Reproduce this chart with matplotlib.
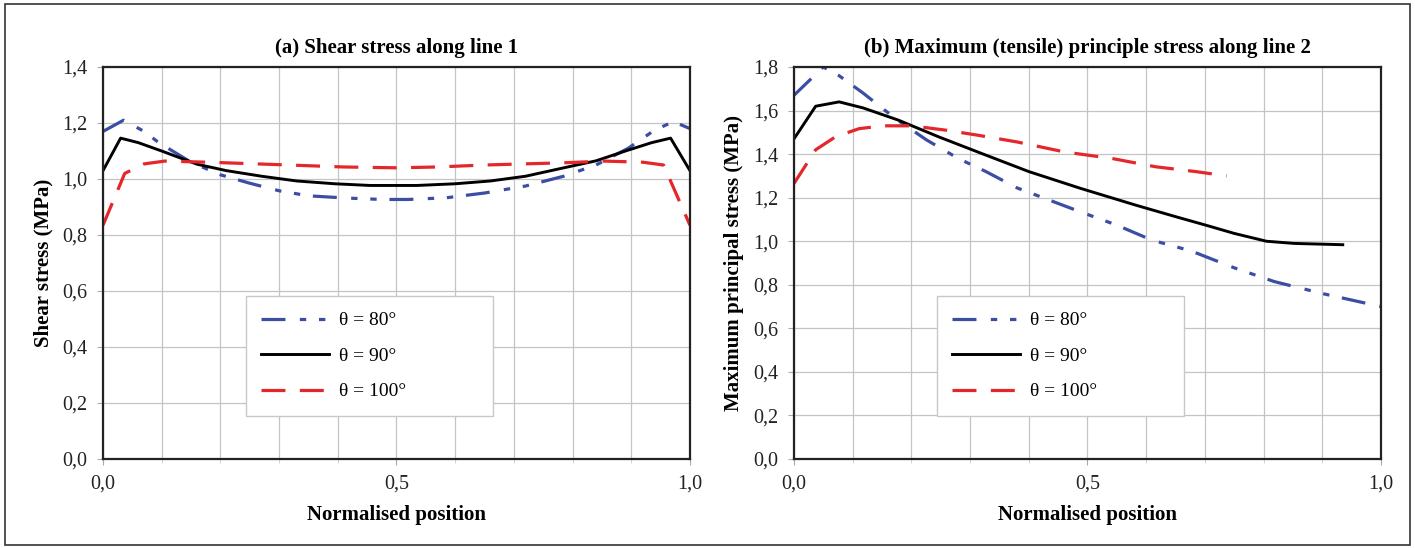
import matplotlib.pyplot as plt
from matplotlib.patches import Rectangle
from matplotlib.ticker import FuncFormatter, MultipleLocator

plt.rcParams['font.family'] = ['Liberation Serif', 'DejaVu Serif']

# (a) shear stress along line 1
x_a80 = [0.0, 0.035, 0.07, 0.095, 0.15, 0.2, 0.25, 0.3, 0.35, 0.415, 0.475, 0.52,
         0.585, 0.65, 0.72, 0.785, 0.84, 0.895, 0.94, 0.972, 1.0]
y_a80 = [1.17, 1.21, 1.17, 1.13, 1.06, 1.015, 0.985, 0.958, 0.94, 0.932, 0.927, 0.927,
         0.933, 0.95, 0.975, 1.01, 1.05, 1.11, 1.175, 1.205, 1.18]
x_a90 = [0.0, 0.03, 0.06, 0.1, 0.16, 0.21, 0.27, 0.33, 0.395, 0.455, 0.535, 0.6,
         0.66, 0.72, 0.785, 0.84, 0.89, 0.935, 0.967, 1.0]
y_a90 = [1.03, 1.146, 1.13, 1.1, 1.053, 1.03, 1.01, 0.993, 0.983, 0.977, 0.977, 0.983,
         0.993, 1.01, 1.04, 1.065, 1.1, 1.13, 1.146, 1.03]
x_a100 = [0.0, 0.037, 0.07, 0.105, 0.18, 0.29, 0.41, 0.5, 0.57, 0.65, 0.785, 0.855,
          0.92, 0.955, 1.0]
y_a100 = [0.835, 1.02, 1.054, 1.064, 1.06, 1.052, 1.043, 1.04, 1.043, 1.05, 1.058, 1.064,
          1.06, 1.05, 0.835]

# (b) max principal stress along line 2
x_b80 = [0.0, 0.05, 0.077, 0.118, 0.172, 0.226, 0.28, 0.327, 0.38, 0.434, 0.488, 0.549,
         0.61, 0.677, 0.75, 0.818, 0.9, 1.0]
y_b80 = [1.67, 1.80, 1.76, 1.68, 1.565, 1.465, 1.38, 1.32, 1.245, 1.19, 1.135, 1.075,
         1.005, 0.955, 0.878, 0.815, 0.76, 0.70]
x_b90 = [0.0, 0.037, 0.077, 0.118, 0.178, 0.246, 0.313, 0.4, 0.488, 0.582, 0.65, 0.704,
         0.75, 0.805, 0.852, 0.935]
y_b90 = [1.47, 1.62, 1.64, 1.612, 1.556, 1.48, 1.41, 1.32, 1.243, 1.166, 1.113, 1.072,
         1.036, 1.0, 0.99, 0.984]
x_b100 = [0.0, 0.037, 0.071, 0.111, 0.152, 0.2, 0.259, 0.313, 0.38, 0.461, 0.542, 0.616,
          0.684, 0.737]
y_b100 = [1.265, 1.42, 1.48, 1.517, 1.53, 1.53, 1.51, 1.487, 1.456, 1.41, 1.38, 1.342,
          1.32, 1.30]

labels = ['θ = 80°', 'θ = 90°', 'θ = 100°']
titles = ['(a) Shear stress along line 1',
          '(b) Maximum (tensile) principle stress along line 2']
ylabels = ['Shear stress (MPa)', 'Maximum principal stress (MPa)']
ymax = [1.4, 1.8]

blue = '#3b4ea3'
red = '#e5262b'

fig = plt.figure(figsize=(14.15, 5.48), dpi=100)
fig.patches.append(Rectangle((0.0035, 0.006), 0.993, 0.987, transform=fig.transFigure,
                             fill=False, edgecolor='#333333', lw=1.2))

ax1 = fig.add_axes([0.0728, 0.1624, 0.4148, 0.7153])
ax2 = fig.add_axes([0.5611, 0.1624, 0.4148, 0.7153])

series = [
    [(x_a80, y_a80), (x_a90, y_a90), (x_a100, y_a100)],
    [(x_b80, y_b80), (x_b90, y_b90), (x_b100, y_b100)],
]

comma = FuncFormatter(lambda v, p: ('%.1f' % v).replace('.', ','))

for i, ax in enumerate([ax1, ax2]):
    (x80, y80), (x90, y90), (x100, y100) = series[i]
    ax.plot(x80, y80, color=blue, lw=2.3, ls=(0, (7.5, 4.5, 2, 4, 2, 4)), label=labels[0])
    ax.plot(x90, y90, color='black', lw=2.1, label=labels[1])
    ax.plot(x100, y100, color=red, lw=2.3, ls=(0, (7.5, 4.5)), label=labels[2])

    ax.set_xlim(0, 1)
    ax.set_ylim(0, ymax[i])
    ax.xaxis.set_major_locator(MultipleLocator(0.5))
    ax.xaxis.set_minor_locator(MultipleLocator(0.1))
    ax.yaxis.set_major_locator(MultipleLocator(0.2))
    ax.xaxis.set_major_formatter(comma)
    ax.yaxis.set_major_formatter(comma)
    ax.grid(True, which='both', color='#c4c4c4', lw=0.9)
    ax.set_axisbelow(True)
    ax.tick_params(which='major', direction='out', length=4.5, color='#aaaaaa',
                   labelsize=14.5, pad=7, labelcolor='#222222')
    ax.tick_params(which='minor', direction='out', length=3, color='#cccccc')
    for s in ax.spines.values():
        s.set_linewidth(1.6)
        s.set_color('#222222')

    ax.set_title(titles[i], fontsize=15, fontweight='bold', pad=10)
    ax.set_xlabel('Normalised position', fontsize=15, fontweight='bold', labelpad=8)
    ax.set_ylabel(ylabels[i], fontsize=15, fontweight='bold', labelpad=6)

    leg = ax.legend(loc='lower left', bbox_to_anchor=(0.243, 0.11, 0.421, 0.301),
                    mode='expand', fontsize=14, handlelength=3.5, labelspacing=0.92,
                    fancybox=False, framealpha=1, edgecolor='#c8c8c8', borderpad=0.8,
                    handletextpad=0.5, borderaxespad=0)
    leg.get_frame().set_linewidth(1.0)

fig.savefig('out.png', dpi=100)
